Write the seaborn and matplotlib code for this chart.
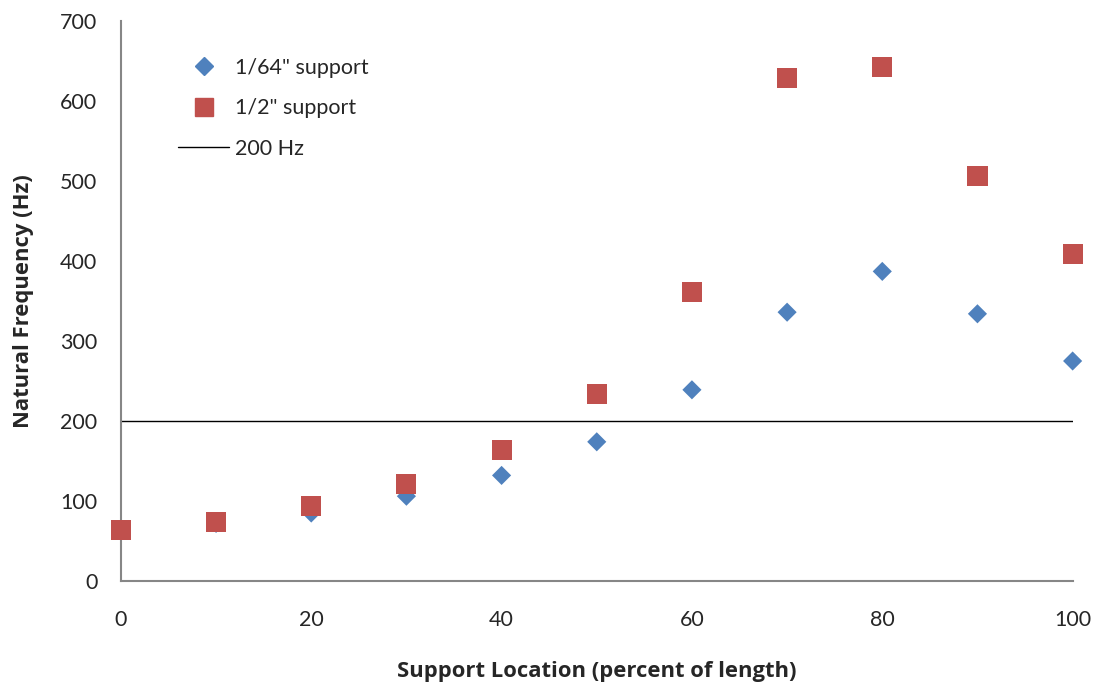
import matplotlib
matplotlib.use("Agg")
import matplotlib.pyplot as plt
from matplotlib.lines import Line2D
import seaborn as sns
import pandas as pd

# Support location along the beam (percent of length)
location = [0, 10, 20, 30, 40, 50, 60, 70, 80, 90, 100]
# Natural frequency (Hz) for each support width
freq_1_64 = [63, 72, 85, 106, 132, 174, 239, 336, 387, 334, 275]
freq_1_2 = [64, 74, 94, 121, 164, 234, 361, 629, 643, 506, 409]
threshold = 200

sns.set_theme(style="white")
plt.rcParams["font.family"] = ["Lato", "DejaVu Sans"]

df = pd.DataFrame({"loc": location, "f64": freq_1_64, "f2": freq_1_2})

fig = plt.figure(figsize=(10.99, 6.88), dpi=100)
ax = fig.add_axes([0.110, 0.1555, 0.866, 0.814])

blue = "#4F81BD"
red = "#C0504D"

sns.scatterplot(data=df, x="loc", y="f64", marker="D", s=95, color=blue,
                edgecolor="none", ax=ax, zorder=3, clip_on=False)
sns.scatterplot(data=df, x="loc", y="f2", marker="s", s=210, color=red,
                edgecolor="none", ax=ax, zorder=4, clip_on=False)
ax.axhline(threshold, color="black", lw=1.0, zorder=2)

ax.set_xlim(0, 100)
ax.set_ylim(0, 700)
ax.set_xticks(range(0, 101, 20))
ax.set_yticks(range(0, 701, 100))
ax.tick_params(axis="x", labelsize=15.5, length=0, pad=21)
ax.tick_params(axis="y", labelsize=15.5, length=0, pad=17)

for side in ("top", "right"):
    ax.spines[side].set_visible(False)
for side in ("left", "bottom"):
    ax.spines[side].set_color("#868686")
    ax.spines[side].set_linewidth(1.5)

label_font = dict(family=["Open Sans", "DejaVu Sans"], fontsize=15.8,
                  fontweight="bold")
ax.set_xlabel("Support Location (percent of length)", labelpad=22,
              **label_font)
ax.set_ylabel("Natural Frequency (Hz)", labelpad=19, **label_font)

handles = [
    Line2D([], [], marker="D", color=blue, linestyle="none", markersize=9.5),
    Line2D([], [], marker="s", color=red, linestyle="none", markersize=13),
    Line2D([], [], color="black", lw=1.0),
]
labels = ['1/64" support', '1/2" support', "200 Hz"]
ax.legend(handles, labels, loc="upper left", bbox_to_anchor=(0.0394, 0.969),
          frameon=False, fontsize=15.5, handlelength=2.4, labelspacing=0.95,
          handletextpad=0.25)

fig.savefig("out.png", dpi=100)
